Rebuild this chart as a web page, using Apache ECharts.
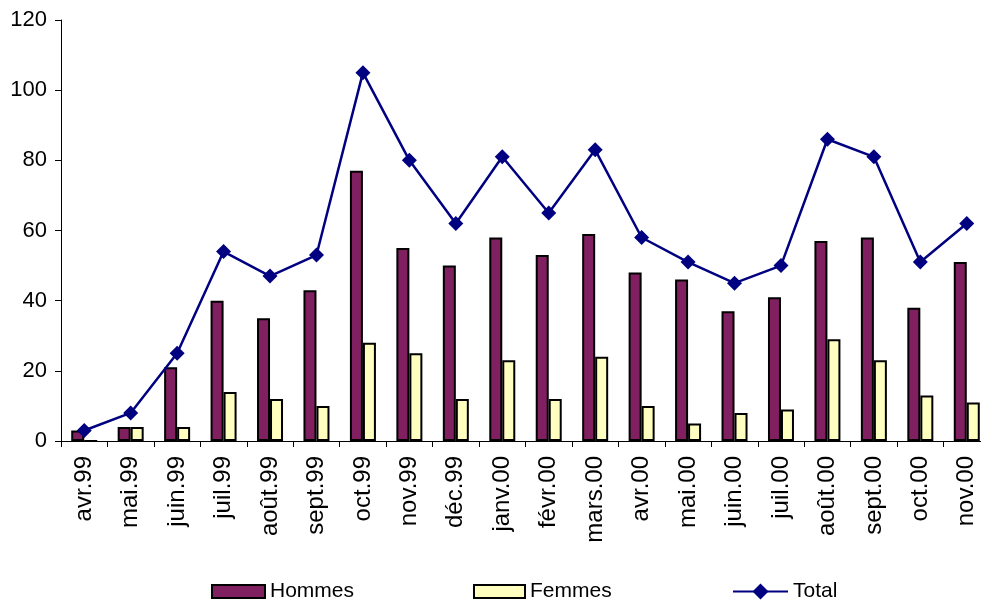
<!DOCTYPE html>
<html>
<head>
<meta charset="utf-8">
<script src="https://cdn.jsdelivr.net/npm/echarts@6/dist/echarts.min.js"></script>
<style>
    html, body { margin: 0; padding: 0; background: #fff; overflow: hidden; }
    #chart { width: 990px; height: 605px; }
</style>
</head>
<body>
<div id="chart"></div>
<script>
// mois
const months = [
    'avr.99', 'mai.99', 'juin.99', 'juil.99', 'août.99', 'sept.99', 'oct.99',
    'nov.99', 'déc.99', 'janv.00', 'févr.00', 'mars.00', 'avr.00', 'mai.00',
    'juin.00', 'juil.00', 'août.00', 'sept.00', 'oct.00', 'nov.00'
];

const hommes = [3, 4, 21, 40, 35, 43, 77, 55, 50, 58, 53, 59, 48, 46, 37, 41, 57, 58, 38, 51];
const femmes = [0, 4, 4, 14, 12, 10, 28, 25, 12, 23, 12, 24, 10, 5, 8, 9, 29, 23, 13, 11];
const total = [3, 8, 25, 54, 47, 53, 105, 80, 62, 81, 65, 83, 58, 51, 45, 50, 86, 81, 51, 62];

const yTicks = { min: 0, max: 120, step: 20 };

const FONT = '"Liberation Sans", Arial, sans-serif';

const legendText = {
    fontFamily: FONT,
    fontSize: 21,
    color: '#000'
};

const chart = echarts.init(document.getElementById('chart'));

chart.setOption({
    animation: false,
    backgroundColor: '#fff',
    grid: {
        left: 61,
        right: 0,
        top: 20,
        bottom: 164,
        containLabel: false
    },
    legend: [
        {
            data: ['Hommes'],
            left: 211,
            top: 581,
            padding: 0,
            icon: 'rect',
            itemWidth: 53,
            itemHeight: 13,
            itemGap: 4,
            textStyle: legendText
        },
        {
            data: ['Femmes'],
            left: 473,
            top: 581,
            padding: 0,
            icon: 'rect',
            itemWidth: 51,
            itemHeight: 13,
            textStyle: legendText
        },
        {
            data: ['Total'],
            left: 732,
            top: 581,
            padding: 0,
            itemWidth: 55,
            itemHeight: 20,
            textStyle: legendText
        }
    ],
    xAxis: {
        type: 'category',
        data: months,
        boundaryGap: true,
        axisLine: { lineStyle: { color: '#000', width: 1 } },
        axisTick: {
            show: true,
            alignWithLabel: false,
            length: 6,
            lineStyle: { color: '#000' }
        },
        axisLabel: {
            rotate: 90,
            interval: 0,
            margin: 15,
            fontFamily: FONT,
            fontSize: 24,
            color: '#000'
        },
        splitLine: { show: false }
    },
    yAxis: {
        type: 'value',
        min: yTicks.min,
        max: yTicks.max,
        interval: yTicks.step,
        axisLine: { show: true, lineStyle: { color: '#000', width: 1 } },
        axisTick: {
            show: true,
            length: 6,
            lineStyle: { color: '#000' }
        },
        axisLabel: {
            margin: 14,
            fontFamily: FONT,
            fontSize: 22,
            color: '#000'
        },
        splitLine: { show: false }
    },
    series: [
        {
            name: 'Hommes',
            type: 'bar',
            data: hommes,
            barWidth: 13,
            barGap: '0%',
            itemStyle: {
                color: '#802060',
                borderColor: '#000',
                borderWidth: 2
            }
        },
        {
            name: 'Femmes',
            type: 'bar',
            data: femmes,
            barWidth: 13,
            barGap: '0%',
            itemStyle: {
                color: '#FFFFC0',
                borderColor: '#000',
                borderWidth: 2
            }
        },
        {
            name: 'Total',
            type: 'line',
            data: total,
            symbol: 'diamond',
            symbolSize: 15,
            lineStyle: { color: '#000080', width: 2.5 },
            itemStyle: { color: '#000080' },
            z: 5
        }
    ]
});
</script>
</body>
</html>
